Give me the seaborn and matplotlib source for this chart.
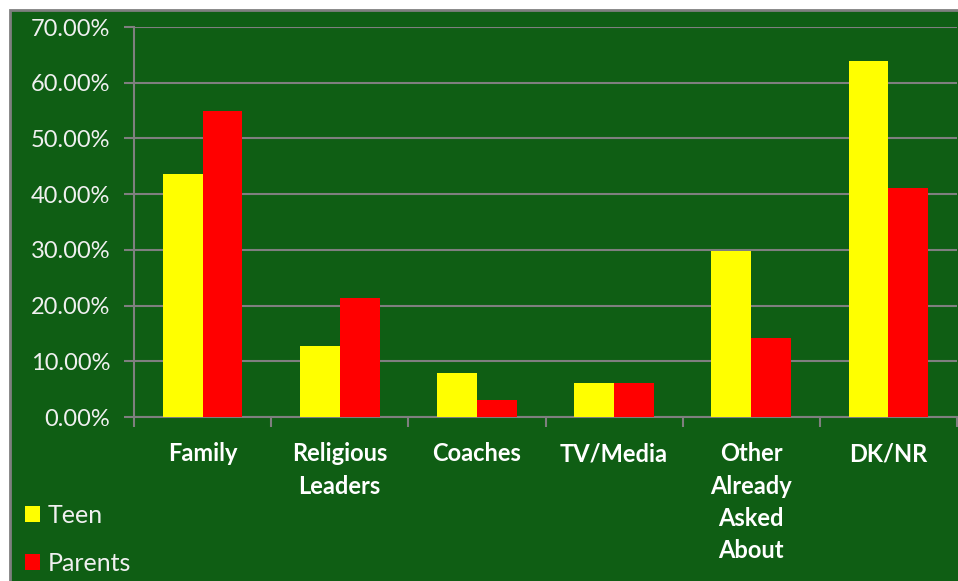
import matplotlib
matplotlib.use("Agg")
import matplotlib.pyplot as plt
from matplotlib.patches import Rectangle
from matplotlib.ticker import PercentFormatter, FixedLocator
import pandas as pd
import seaborn as sns

# Survey shares by source of information (percent)
categories = ["Family", "Religious\nLeaders", "Coaches", "TV/Media",
              "Other\nAlready\nAsked\nAbout", "DK/NR"]
teen = [43.6, 12.7, 7.9, 6.1, 29.8, 63.9]
parents = [54.9, 21.4, 3.1, 6.1, 14.2, 41.1]
groups = ["Teen", "Parents"]
y_ticks = [0, 10, 20, 30, 40, 50, 60, 70]

df = pd.DataFrame({
    "source": categories * 2,
    "share": teen + parents,
    "group": [groups[0]] * len(teen) + [groups[1]] * len(parents),
})

sns.set_theme(style="white")
plt.rcParams["font.family"] = ["Lato", "DejaVu Sans"]

BG = "#0F5E14"
GRID = "#7F7F7F"
TXT = "#F0F0F0"

fig = plt.figure(figsize=(9.58, 5.81), dpi=100, facecolor="white")
fig.patches.append(Rectangle((10 / 958, -0.05), 1.1, 1 - 10 / 581 + 0.05,
                             transform=fig.transFigure, facecolor=BG,
                             edgecolor=GRID, linewidth=2, zorder=-10))
ax = fig.add_axes([134 / 958, 1 - 417 / 581, 823 / 958, 390 / 581])
ax.set_zorder(1)
ax.set_facecolor(BG)

sns.barplot(data=df, x="source", y="share", hue="group", order=categories,
            hue_order=groups, palette=["#FFFF00", "#FF0000"], saturation=1,
            width=0.58, gap=0, ax=ax, zorder=3, linewidth=0)

ax.set_xlim(-0.5, len(categories) - 0.5)
ax.set_ylim(0, 70)
ax.yaxis.set_major_locator(FixedLocator(y_ticks))
ax.yaxis.set_major_formatter(PercentFormatter(decimals=2))
ax.grid(axis="y", color=GRID, linewidth=1.5, zorder=0)
ax.set_axisbelow(True)

for side in ["top", "right"]:
    ax.spines[side].set_visible(False)
for side in ["left", "bottom"]:
    ax.spines[side].set_color(GRID)
    ax.spines[side].set_linewidth(1.5)

ax.set_xlabel("")
ax.set_ylabel("")
ax.tick_params(axis="y", which="major", direction="out", length=7, width=1.5,
               color=GRID, labelcolor=TXT, labelsize=17, pad=10, left=True)
ax.tick_params(axis="x", which="major", length=0, pad=18, labelcolor="white",
               labelsize=17)
ax.xaxis.set_minor_locator(FixedLocator([i - 0.5 for i in range(len(categories) + 1)]))
ax.tick_params(axis="x", which="minor", direction="out", length=7, width=1.5,
               color=GRID, bottom=True)
for lbl in ax.get_xticklabels():
    lbl.set_fontweight("bold")
    lbl.set_linespacing(1.5)
    lbl.set_verticalalignment("top")

handles, labels = ax.get_legend_handles_labels()
ax.legend(handles, labels, loc="upper left", bbox_to_anchor=(15 / 958, 1 - 494 / 581),
          bbox_transform=fig.transFigure, frameon=False, fontsize=18,
          labelcolor=TXT, handlelength=0.6, handleheight=0.6,
          handletextpad=0.3, labelspacing=1.0, borderaxespad=0)

fig.savefig("out.png", dpi=100, facecolor=fig.get_facecolor())
